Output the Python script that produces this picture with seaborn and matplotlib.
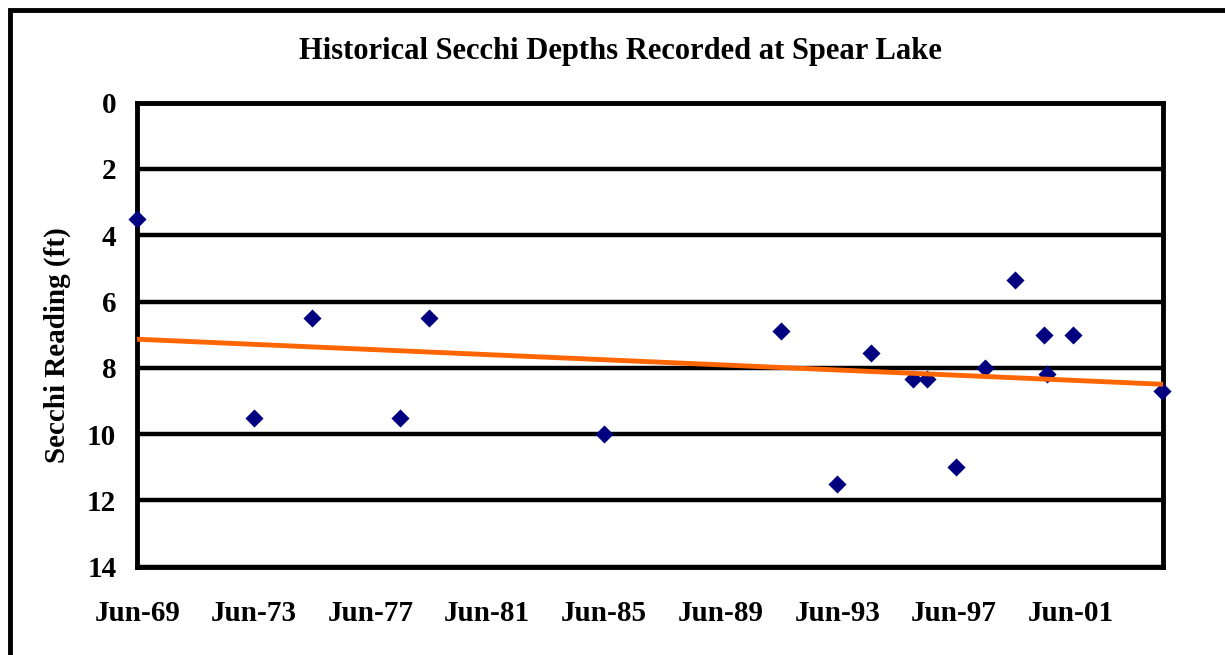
import numpy as np
import pandas as pd
import matplotlib
matplotlib.use("Agg")
from matplotlib import pyplot as plt
import matplotlib.dates as mdates
import seaborn as sns

# Secchi readings
dates = ["1969-06-01", "1973-06-01", "1975-06-01", "1978-06-01", "1979-06-01",
         "1985-06-01", "1991-07-01", "1993-06-01", "1994-08-01", "1996-01-01",
         "1996-07-01", "1997-07-01", "1998-07-01", "1999-07-01", "2000-07-01",
         "2000-08-15", "2001-07-01", "2004-07-15"]
depths = [3.5, 9.5, 6.5, 9.5, 6.5,
          10.0, 6.9, 11.5, 7.55, 8.35,
          8.35, 11.0, 8.0, 5.35, 7.0,
          8.2, 7.0, 8.7]
tick_dates = ["1969-06-01", "1973-06-01", "1977-06-01", "1981-06-01", "1985-06-01",
              "1989-06-01", "1993-06-01", "1997-06-01", "2001-06-01"]
y_ticks = [0, 2, 4, 6, 8, 10, 12, 14]

df = pd.DataFrame({"date": pd.to_datetime(dates), "depth": depths})
df["num"] = mdates.date2num(df["date"])

sns.set_theme(style="white")
plt.rcParams['font.family'] = ['Liberation Serif', 'DejaVu Serif']
plt.rcParams['font.weight'] = 'bold'
plt.rcParams['text.color'] = 'black'
plt.rcParams['axes.labelcolor'] = 'black'
plt.rcParams['xtick.color'] = 'black'
plt.rcParams['ytick.color'] = 'black'

fig = plt.figure(figsize=(12.25, 6.55), dpi=100)
ax = fig.add_axes([0.1120, 0.1348, 0.8374, 0.7084])

# outer chart frame (only top/left visible in the crop)
fig.patches.append(plt.Rectangle((10/1225, -0.5), 2.0, 1 - 10/655 + 0.5,
                                 transform=fig.transFigure, fill=False,
                                 edgecolor="black", linewidth=3.5, zorder=0))

xmin = mdates.date2num(pd.Timestamp("1969-06-01"))
xmax = mdates.date2num(pd.Timestamp("2004-08-01"))

# horizontal grid
for yv in y_ticks:
    ax.axhline(yv, color="black", linewidth=3.2, zorder=1)

sns.scatterplot(data=df, x="num", y="depth", marker="D", s=85,
                color="#000080", edgecolor="#000080", linewidth=0,
                ax=ax, zorder=3, clip_on=False)

# linear trend line
slope, icpt = np.polyfit(df["num"], df["depth"], 1)
xs = np.array([xmin, xmax])
ax.plot(xs, slope * xs + icpt, color="#FF6600", linewidth=3.5, zorder=4)

ax.set_xlim(xmin, xmax)
ax.set_ylim(14, 0)
ax.set_yticks(y_ticks)
ax.set_xticks(mdates.date2num(pd.to_datetime(tick_dates)))
ax.xaxis.set_major_formatter(mdates.DateFormatter("%b-%y"))

for s in ax.spines.values():
    s.set_linewidth(3.5)
    s.set_color("black")

ax.tick_params(axis="both", direction="out", length=7, width=3, color="black",
               labelsize=21)
ax.tick_params(axis="x", pad=17)
ax.tick_params(axis="y", pad=8)
for lbl in ax.get_xticklabels() + ax.get_yticklabels():
    lbl.set_fontweight("bold")

ax.set_xlabel("")
ax.set_ylabel("Secchi Reading (ft)", fontsize=21, fontweight="bold")
ax.yaxis.set_label_coords(-0.065, 0.478)
fig.text(0.5065, 1 - 51/655, "Historical Secchi Depths Recorded at Spear Lake",
         ha="center", va="center", fontsize=22, fontweight="bold")

fig.savefig("out.png", dpi=100, facecolor="white")
